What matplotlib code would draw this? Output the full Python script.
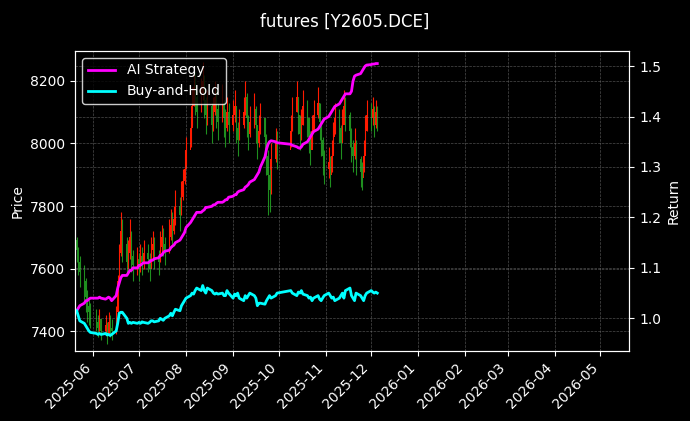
import numpy as np
import pandas as pd
import matplotlib
matplotlib.use("Agg")
import matplotlib.pyplot as plt
import matplotlib.dates as mdates

# trading days (CN holidays removed)
holidays = ["2025-06-02", "2025-10-01", "2025-10-02", "2025-10-03",
            "2025-10-06", "2025-10-07", "2025-10-08"]
dates = pd.bdate_range("2025-05-21", "2025-12-05")
dates = dates[~dates.isin(pd.to_datetime(holidays))]

close = [7660, 7620, 7590, 7560, 7510, 7480, 7460, 7450,
         7430, 7410, 7440, 7400, 7420, 7390, 7430, 7410, 7400, 7460, 7560, 7650, 7720, 7680, 7620, 7650, 7700, 7640, 7610, 7630,
         7600, 7640, 7620, 7650, 7630, 7600, 7660, 7680, 7640, 7620, 7670, 7700, 7680, 7650, 7700, 7740, 7720, 7760, 7800, 7770, 7830, 7880, 7920,
         7980, 8050, 8120, 8180, 8150, 8100, 8160, 8200, 8140, 8090, 8120, 8060, 8100, 8150, 8110, 8070, 8130, 8080, 8050, 8100, 8060,
         8090, 8120, 8050, 8010, 8060, 8100, 8150, 8080, 8030, 8070, 8110, 8060, 8000, 8040, 8080, 8020, 7960, 7900, 7850, 7950, 8000, 7980,
         8040, 8100, 8150, 8090, 8030, 8060, 8120, 8080, 8020, 7980, 8040, 8090, 8130, 8070, 8010, 7960, 7920,
         7940, 7900, 7960, 8020, 8080, 8050, 8000, 8060, 8120, 8090, 8040, 7990, 7960, 8000, 7950, 7910, 7890, 7960, 8040, 8090,
         8080, 8110, 8060, 8100, 8080]
high = [7700, 7670, 7640, 7610, 7570, 7530, 7500, 7490,
        7470, 7450, 7470, 7440, 7450, 7430, 7460, 7450, 7440, 7480, 7580, 7680, 7780, 7760, 7700, 7690, 7760, 7720, 7660, 7670,
        7650, 7680, 7670, 7690, 7680, 7650, 7700, 7720, 7700, 7660, 7720, 7740, 7730, 7700, 7760, 7790, 7780, 7800, 7850, 7830, 7880, 7920, 7980,
        8020, 8100, 8180, 8240, 8230, 8170, 8210, 8260, 8220, 8150, 8170, 8130, 8150, 8200, 8170, 8130, 8190, 8140, 8110, 8150, 8130,
        8140, 8170, 8120, 8070, 8110, 8150, 8200, 8160, 8090, 8120, 8160, 8120, 8060, 8090, 8130, 8080, 8030, 7980, 7920, 8000, 8050, 8040,
        8090, 8150, 8200, 8150, 8090, 8110, 8170, 8140, 8080, 8040, 8090, 8140, 8180, 8130, 8070, 8020, 7980,
        7990, 7960, 8010, 8070, 8130, 8110, 8060, 8110, 8170, 8150, 8100, 8050, 8010, 8050, 8010, 7960, 7940, 8010, 8090, 8140,
        8130, 8150, 8120, 8140, 8120]
low = [7620, 7580, 7540, 7500, 7460, 7430, 7420, 7410,
       7400, 7380, 7400, 7370, 7390, 7360, 7390, 7380, 7370, 7390, 7450, 7550, 7640, 7620, 7580, 7600, 7630, 7590, 7560, 7580,
       7560, 7590, 7580, 7600, 7590, 7560, 7610, 7630, 7600, 7580, 7620, 7650, 7640, 7610, 7650, 7690, 7670, 7710, 7740, 7720, 7770, 7820, 7870,
       7930, 7990, 8060, 8120, 8090, 8050, 8100, 8140, 8080, 8030, 8060, 8000, 8040, 8090, 8050, 8010, 8070, 8020, 7990, 8040, 8000,
       8040, 8070, 8000, 7960, 8010, 8050, 8090, 8020, 7980, 8020, 8050, 8000, 7950, 7990, 8030, 7960, 7900, 7770, 7780, 7840, 7940, 7920,
       7990, 8040, 8100, 8030, 7980, 8010, 8060, 8020, 7970, 7930, 7990, 8040, 8080, 8010, 7960, 7900, 7870,
       7890, 7860, 7910, 7970, 8030, 8000, 7950, 8010, 8070, 8040, 7990, 7940, 7910, 7950, 7900, 7860, 7850, 7910, 7990, 8040,
       8040, 8060, 8020, 8050, 8040]
strategy = [1.015, 1.02, 1.025, 1.03, 1.035, 1.035, 1.038, 1.04,
            1.04, 1.04, 1.042, 1.04, 1.038, 1.04, 1.042, 1.04, 1.035, 1.045, 1.06, 1.07, 1.08, 1.085, 1.085, 1.09, 1.095, 1.095, 1.10, 1.10,
            1.105, 1.105, 1.108, 1.11, 1.11, 1.112, 1.115, 1.115, 1.118, 1.12, 1.125, 1.125, 1.13, 1.133, 1.135, 1.14, 1.143, 1.145, 1.15, 1.155, 1.16, 1.165, 1.17,
            1.18, 1.19, 1.195, 1.20, 1.205, 1.21, 1.21, 1.213, 1.215, 1.22, 1.22, 1.222, 1.225, 1.225, 1.228, 1.23, 1.23, 1.232, 1.235, 1.235, 1.24,
            1.242, 1.245, 1.245, 1.25, 1.252, 1.255, 1.26, 1.262, 1.265, 1.27, 1.275, 1.28, 1.285, 1.29, 1.30, 1.32, 1.335, 1.345, 1.35, 1.352, 1.35, 1.348,
            1.345, 1.343, 1.34, 1.338, 1.337, 1.34, 1.345, 1.35, 1.355, 1.36, 1.365, 1.37, 1.375, 1.38, 1.385, 1.39, 1.395,
            1.40, 1.405, 1.41, 1.415, 1.42, 1.425, 1.43, 1.435, 1.44, 1.445, 1.445, 1.45, 1.47, 1.48, 1.482, 1.485, 1.49, 1.495, 1.50, 1.502,
            1.503, 1.504, 1.504, 1.505, 1.505]
buy_hold = [1.015, 1.005, 0.995, 0.99, 0.985, 0.98, 0.975, 0.972,
            0.97, 0.968, 0.97, 0.968, 0.97, 0.967, 0.968, 0.966, 0.968, 0.975, 0.99, 1.01, 1.012, 1.012, 1.0, 0.99, 0.992, 0.99, 0.992, 0.99,
            0.992, 0.99, 0.993, 0.992, 0.99, 0.992, 0.995, 0.995, 0.993, 0.995, 1.0, 0.998, 0.996, 1.0, 1.005, 1.01, 1.005, 1.012, 1.018, 1.015, 1.025, 1.03, 1.035,
            1.04, 1.045, 1.05, 1.048, 1.055, 1.06, 1.055, 1.065, 1.055, 1.05, 1.06, 1.055, 1.05, 1.048, 1.05, 1.048, 1.05, 1.045, 1.045, 1.055, 1.05,
            1.04, 1.048, 1.045, 1.05, 1.04, 1.035, 1.045, 1.04, 1.045, 1.05, 1.045, 1.04, 1.025, 1.03, 1.03, 1.028, 1.035, 1.04, 1.045, 1.04, 1.045, 1.05,
            1.055, 1.05, 1.045, 1.052, 1.05, 1.055, 1.048, 1.045, 1.04, 1.042, 1.035, 1.04, 1.045, 1.038, 1.035, 1.04, 1.045,
            1.05, 1.045, 1.04, 1.042, 1.035, 1.04, 1.045, 1.05, 1.04, 1.055, 1.06, 1.045, 1.04, 1.035, 1.05, 1.045, 1.04, 1.035, 1.045, 1.05,
            1.055, 1.052, 1.05, 1.052, 1.05]

plt.style.use("dark_background")
fig = plt.figure(figsize=(6.9, 4.21), dpi=100)
ax = fig.add_axes([0.109, 0.166, 0.803, 0.713])

close = np.array(close)
opens = np.concatenate([[7690], close[:-1]])
colors = ["#ff1a00" if c >= o else "#1f8f1f" for o, c in zip(opens, close)]
ax.vlines(dates, low, high, colors=colors, linewidth=0.8)
ax.bar(dates, close - opens, bottom=opens, width=0.8, color=colors)

ax.set_ylim(7336, 8296)
ax.set_ylabel("Price")
ax.grid(True, color="gray", linestyle="--", linewidth=0.5, alpha=0.6)

ax2 = ax.twinx()
ax2.plot(dates, strategy, color="#ff00ff", linewidth=2, label="AI Strategy")
ax2.plot(dates, buy_hold, color="#00ffff", linewidth=2, label="Buy-and-Hold")
ax2.set_ylim(0.935, 1.53)
ax2.set_ylabel("Return")
ax2.grid(True, color="gray", linestyle="--", linewidth=0.5, alpha=0.6)
leg = ax2.legend(loc="upper left", facecolor="black", edgecolor="white")

ax.set_xlim(pd.Timestamp("2025-05-20"), pd.Timestamp("2026-05-20"))
ax.xaxis.set_major_locator(mdates.MonthLocator())
ax.xaxis.set_major_formatter(mdates.DateFormatter("%Y-%m"))
plt.setp(ax.get_xticklabels(), rotation=45, ha="right")

fig.suptitle("futures [Y2605.DCE]", y=0.97)
fig.savefig("out.png", dpi=100)
